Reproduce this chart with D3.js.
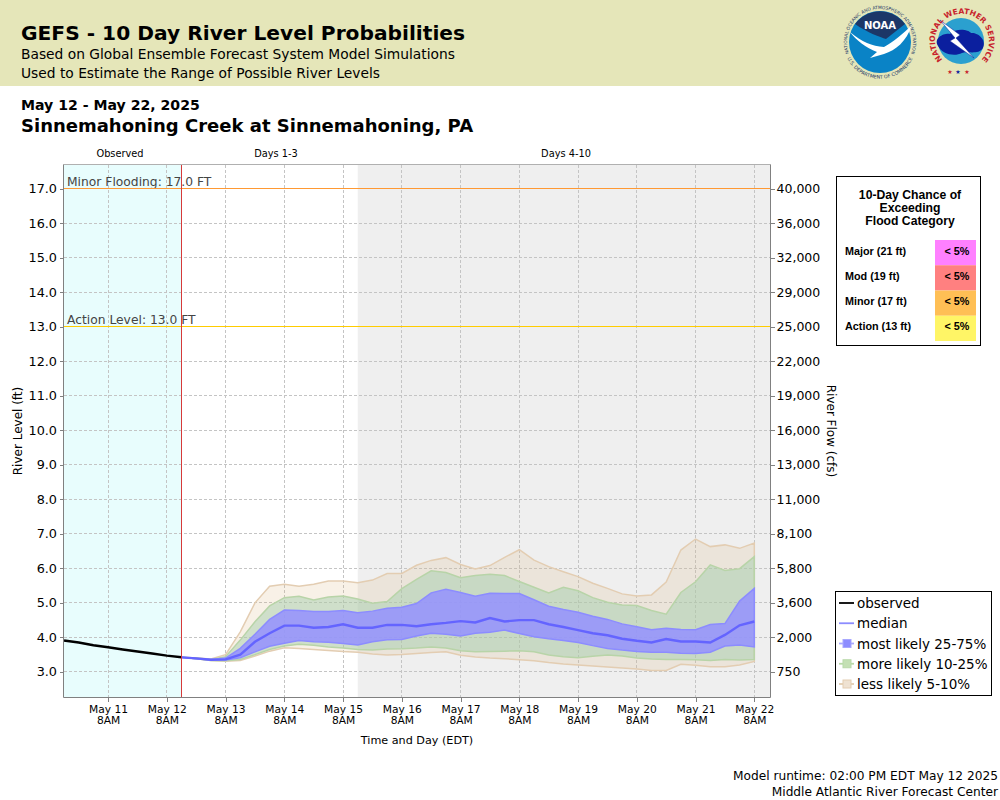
<!DOCTYPE html>
<html>
<head>
<meta charset="utf-8">
<script src="https://d3js.org/d3.v7.min.js"></script>
<style>
  html, body { margin: 0; padding: 0; background: #fff; }
  svg { display: block; }
  text { font-family: "DejaVu Sans", sans-serif; fill: #000; }
  .box text { font-family: "Liberation Sans", Arial, sans-serif; font-weight: bold; }
</style>
</head>
<body>
<div id="chart"></div>
<script>
// stage values, feet
const levelTicks = [3, 4, 5, 6, 7, 8, 9, 10, 11, 12, 13, 14, 15, 16, 17];
const flowLabels = ['750', '2,000', '3,600', '5,800', '8,100', '11,000', '13,000', '16,000',
    '19,000', '22,000', '25,000', '29,000', '32,000', '36,000', '40,000'];
const dayLabels = ['May 11', 'May 12', 'May 13', 'May 14', 'May 15', 'May 16', 'May 17',
    'May 18', 'May 19', 'May 20', 'May 21', 'May 22'];

// observed every 6h from May 10 2PM
const observed = [3.90, 3.84, 3.76, 3.70, 3.64, 3.58, 3.52, 3.46, 3.415];

// forecast every 6h from May 12 2PM
const q95 = [3.41,3.39, 3.36,3.49,4.15,4.99, 5.47,5.53,5.47,5.53, 5.62,5.62,5.57,5.65, 5.84,5.84,6.08,6.22,
    6.30,6.10,5.97,6.07, 6.31,6.53,6.23,6.04, 5.89,5.75,5.56,5.41, 5.25,5.19,5.22,5.59, 6.52,6.84,6.62,6.67, 6.57,6.72];
const q90 = [3.41,3.39, 3.35,3.43,3.91,4.44, 4.90,5.14,5.18,5.07, 5.16,5.19,5.10,4.98, 5.03,5.40,5.67,5.92,
    5.87,5.72,5.78,5.82, 5.78,5.61,5.44,5.28, 5.44,5.34,5.14,5.01, 4.93,4.91,4.77,4.66, 5.29,5.60,6.09,5.93, 5.98,6.33];
const q75 = [3.41,3.38, 3.35,3.39,3.67,4.08, 4.51,4.78,4.77,4.74, 4.74,4.77,4.70,4.75, 4.83,4.86,4.97,5.28,
    5.38,5.29,5.18,5.27, 5.26,5.26,5.08,4.89, 4.80,4.72,4.60,4.51, 4.38,4.30,4.21,4.25, 4.22,4.21,4.36,4.39, 5.04,5.41];
const median = [3.41,3.38, 3.34,3.35,3.49,3.86, 4.11,4.33,4.33,4.27, 4.29,4.37,4.27,4.27, 4.35,4.35,4.31,4.37,
    4.41,4.46,4.42,4.55, 4.45,4.49,4.49,4.37, 4.29,4.20,4.11,4.05, 3.95,3.89,3.84,3.94, 3.87,3.87,3.84,4.06, 4.34,4.45];
const q25 = [3.41,3.37, 3.33,3.33,3.40,3.57, 3.73,3.82,3.90,3.86, 3.85,3.81,3.77,3.86, 3.92,3.93,4.03,4.11,
    4.08,4.03,4.11,4.14, 4.20,4.10,4.01,3.95, 3.90,3.84,3.75,3.67, 3.62,3.58,3.56,3.56, 3.53,3.52,3.56,3.74, 3.77,3.71];
const q10 = [3.41,3.37, 3.32,3.31,3.35,3.49, 3.64,3.74,3.79,3.76, 3.71,3.68,3.64,3.62, 3.65,3.66,3.68,3.71,
    3.68,3.60,3.57,3.58, 3.59,3.60,3.57,3.48, 3.43,3.40,3.44,3.48, 3.45,3.39,3.36,3.35, 3.35,3.34,3.32,3.35, 3.33,3.35];
const q5 = [3.41,3.37, 3.32,3.30,3.32,3.45, 3.59,3.69,3.67,3.64, 3.61,3.58,3.56,3.51, 3.48,3.49,3.52,3.55,
    3.57,3.47,3.42,3.39, 3.37,3.34,3.31,3.26, 3.22,3.19,3.16,3.13, 3.10,3.07,3.03,3.03, 3.21,3.18,3.14,3.14, 3.19,3.29];

const floodRows = ['Major (21 ft)', 'Mod (19 ft)', 'Minor (17 ft)', 'Action (13 ft)'];
const floodChance = ['< 5%', '< 5%', '< 5%', '< 5%'];
const floodColors = ['#ff80ff', '#ff8080', '#ffbf55', '#fff566'];

const legendLabels = ['observed', 'median', 'most likely 25-75%', 'more likely 10-25%', 'less likely 5-10%'];

const hour6 = 6 * 3600 * 1000;
const obsStart = new Date(2025, 4, 10, 14);
const fcstStart = new Date(2025, 4, 12, 14);
const grayStart = new Date(2025, 4, 15, 14);
const obsTimes = observed.map((d, i) => new Date(+obsStart + i * hour6));
const fcstTimes = median.map((d, i) => new Date(+fcstStart + i * hour6));
const dayTicks = dayLabels.map((d, i) => new Date(2025, 4, 11 + i, 8));

const plot = { left: 63.5, right: 770.5, top: 164.5, bottom: 697.5 };

const svg = d3.select('#chart').append('svg')
    .attr('width', 1000)
    .attr('height', 800);

// header band
svg.append('rect').attr('width', 1000).attr('height', 86).attr('fill', '#e5e6b9');

svg.append('text').attr('x', 21).attr('y', 40).text('GEFS - 10 Day River Level Probabilities')
    .style('font-size', '20.2px').style('font-weight', 'bold');
svg.append('text').attr('x', 21).attr('y', 59).text('Based on Global Ensemble Forecast System Model Simulations')
    .style('font-size', '13.8px');
svg.append('text').attr('x', 21).attr('y', 78).text('Used to Estimate the Range of Possible River Levels')
    .style('font-size', '13.8px');
svg.append('text').attr('x', 21).attr('y', 110).text('May 12 - May 22, 2025')
    .style('font-size', '14.1px').style('font-weight', 'bold');
svg.append('text').attr('x', 21).attr('y', 132).text('Sinnemahoning Creek at Sinnemahoning, PA')
    .style('font-size', '18px').style('font-weight', 'bold');

//scales
const xScale = d3.scaleTime()
    .domain([new Date(2025, 4, 10, 13, 47), new Date(2025, 4, 22, 14, 37)])
    .range([plot.left, plot.right]);
const yScale = d3.scaleLinear()
    .domain([3, 17])
    .range([671.5, 188.5]);

const bounds = svg.append('g');

// shaded periods
bounds.append('rect')
    .attr('x', plot.left).attr('y', plot.top)
    .attr('width', xScale(fcstStart) - plot.left).attr('height', plot.bottom - plot.top)
    .attr('fill', '#e8fdfd');
bounds.append('rect')
    .attr('x', xScale(grayStart)).attr('y', plot.top)
    .attr('width', plot.right - xScale(grayStart)).attr('height', plot.bottom - plot.top)
    .attr('fill', '#efefef');

// grid
bounds.selectAll('.hgrid').data(levelTicks).join('line')
    .attr('x1', plot.left).attr('x2', plot.right)
    .attr('y1', d => yScale(d)).attr('y2', d => yScale(d))
    .attr('stroke', '#c4c4c4').attr('stroke-dasharray', '3,2').attr('shape-rendering', 'crispEdges');
bounds.selectAll('.vgrid').data(dayTicks).join('line')
    .attr('y1', plot.top).attr('y2', plot.bottom)
    .attr('x1', d => xScale(d)).attr('x2', d => xScale(d))
    .attr('stroke', '#c4c4c4').attr('stroke-dasharray', '3,2').attr('shape-rendering', 'crispEdges');

// probability bands, widest first
const bandLayers = [
    { hi: q95, lo: q5, fill: '#deb887', stroke: '#e3cdb2', op: 0.2 },
    { hi: q90, lo: q10, fill: '#a5cdad', stroke: '#b8d4a8', op: 0.5 },
    { hi: q75, lo: q25, fill: '#9491ff', stroke: '#8c8cff', op: 0.85 }
];
bandLayers.forEach(b => {
    const area = d3.area()
        .x((d, i) => xScale(fcstTimes[i]))
        .y0((d, i) => yScale(b.lo[i]))
        .y1(d => yScale(d));
    bounds.append('path').attr('d', area(b.hi))
        .attr('fill', b.fill).attr('fill-opacity', b.op)
        .attr('stroke', b.stroke).attr('stroke-width', 1.5);
});

const lineGen = times => d3.line().x((d, i) => xScale(times[i])).y(d => yScale(d));

bounds.append('path').attr('d', lineGen(obsTimes)(observed))
    .attr('fill', 'none').attr('stroke', '#000').attr('stroke-width', 2.5);
bounds.append('path').attr('d', lineGen(fcstTimes)(median))
    .attr('fill', 'none').attr('stroke', '#6464ff').attr('stroke-width', 2.4);

// flood lines
const floodLines = [
    { level: 17, label: 'Minor Flooding: 17.0 FT', color: '#ff9933' },
    { level: 13, label: 'Action Level: 13.0 FT', color: '#ffcc00' }
];
floodLines.forEach(f => {
    bounds.append('text').attr('x', 67).attr('y', yScale(f.level) - 2.5).text(f.label)
        .style('font-size', '12.3px').style('fill', '#444');
    bounds.append('line')
        .attr('x1', plot.left).attr('x2', plot.right)
        .attr('y1', yScale(f.level)).attr('y2', yScale(f.level))
        .attr('stroke', f.color).attr('stroke-width', 1).attr('shape-rendering', 'crispEdges');
});

// now line
bounds.append('line')
    .attr('x1', xScale(fcstStart)).attr('x2', xScale(fcstStart))
    .attr('y1', plot.top).attr('y2', plot.bottom)
    .attr('stroke', '#d63a3a').attr('stroke-width', 1).attr('shape-rendering', 'crispEdges');

// frame
svg.append('path').attr('d', `M${plot.left},${plot.top}H${plot.right}`)
    .attr('fill', 'none').attr('stroke', '#b0b0b0');
svg.append('path').attr('d', `M${plot.left},${plot.top}V${plot.bottom}H${plot.right}V${plot.top}`)
    .attr('fill', 'none').attr('stroke', '#808080');

// axes
const leftAxis = d3.axisLeft(yScale).tickValues(levelTicks).tickFormat(d3.format('.1f')).tickSize(4).tickSizeOuter(0);
const rightAxis = d3.axisRight(yScale).tickValues(levelTicks).tickFormat((d, i) => flowLabels[i]).tickSize(4).tickSizeOuter(0);
const bottomAxis = d3.axisBottom(xScale).tickValues(dayTicks).tickFormat((d, i) => dayLabels[i]).tickSize(4).tickSizeOuter(0);

const styleAxis = g => {
    g.select('.domain').remove();
    g.selectAll('line').attr('stroke', '#808080').attr('shape-rendering', 'crispEdges');
    g.selectAll('text').style('font-family', '"DejaVu Sans", sans-serif').style('fill', '#000');
};

svg.append('g').attr('transform', `translate(${plot.left},0)`).call(leftAxis).call(styleAxis)
    .selectAll('text').style('font-size', '12.8px').attr('x', -6.5);
svg.append('g').attr('transform', `translate(${plot.right},0)`).call(rightAxis).call(styleAxis)
    .selectAll('text').style('font-size', '12.5px').attr('x', 6);
const xAxisG = svg.append('g').attr('transform', `translate(0,${plot.bottom})`).call(bottomAxis).call(styleAxis);
xAxisG.selectAll('text').style('font-size', '10.7px').attr('y', 8);
xAxisG.selectAll('.tick').append('text')
    .attr('y', 26).attr('fill', '#000').attr('text-anchor', 'middle')
    .style('font-size', '10.7px').text('8AM');

// axis titles
svg.append('text').attr('transform', 'translate(22,431) rotate(-90)').attr('text-anchor', 'middle')
    .text('River Level (ft)').style('font-size', '12px');
svg.append('text').attr('transform', 'translate(827,431) rotate(90)').attr('text-anchor', 'middle')
    .text('River Flow (cfs)').style('font-size', '12px');
svg.append('text').attr('x', 417).attr('y', 744).attr('text-anchor', 'middle')
    .text('Time and Day (EDT)').style('font-size', '11.2px');

// period labels
[['Observed', 120], ['Days 1-3', 276], ['Days 4-10', 566]].forEach(p => {
    svg.append('text').attr('x', p[1]).attr('y', 157).attr('text-anchor', 'middle')
        .text(p[0]).style('font-size', '9.8px');
});

// flood category box
const box = svg.append('g').attr('class', 'box');
box.append('rect').attr('x', 836.5).attr('y', 176.5).attr('width', 144).attr('height', 169)
    .attr('fill', '#fff').attr('stroke', '#000');
['10-Day Chance of', 'Exceeding', 'Flood Category'].forEach((t, i) => {
    box.append('text').attr('x', 910).attr('y', 199 + i * 13).attr('text-anchor', 'middle')
        .text(t).style('font-size', '12.2px');
});
const rowScale = d3.scaleBand().domain(floodRows).range([240, 341]);
floodRows.forEach((r, i) => {
    box.append('rect').attr('x', 935).attr('y', rowScale(r)).attr('width', 41)
        .attr('height', rowScale.bandwidth()).attr('fill', floodColors[i]);
    box.append('text').attr('x', 845).attr('y', rowScale(r) + 14.5).text(r).style('font-size', '10.8px');
    box.append('text').attr('x', 957).attr('y', rowScale(r) + 14.5).attr('text-anchor', 'middle')
        .text(floodChance[i]).style('font-size', '10.8px');
});

// legend
const legend = svg.append('g');
legend.append('rect').attr('x', 835.5).attr('y', 591.5).attr('width', 156).attr('height', 104)
    .attr('fill', '#fff').attr('stroke', '#000');
const legendStyles = [
    { line: '#000', fill: null },
    { line: '#8c8cff', fill: null },
    { line: '#a8a8ff', fill: '#8c8cff' },
    { line: '#b8d9a8', fill: '#c4e0b4' },
    { line: '#e3cdb2', fill: '#efe2d2' }
];
const legendY = d3.scalePoint().domain(legendLabels).range([603, 684]);
legendLabels.forEach((l, i) => {
    const y = legendY(l);
    legend.append('line').attr('x1', 839).attr('x2', 854).attr('y1', y).attr('y2', y)
        .attr('stroke', legendStyles[i].line).attr('stroke-width', 1.8);
    if (legendStyles[i].fill) {
        legend.append('rect').attr('x', 843).attr('y', y - 4).attr('width', 8).attr('height', 8)
            .attr('fill', legendStyles[i].fill).attr('stroke', legendStyles[i].line);
    }
    legend.append('text').attr('x', 857).attr('y', y + 5).text(l).style('font-size', '13.5px');
});

// footer
svg.append('text').attr('x', 998).attr('y', 780).attr('text-anchor', 'end')
    .text('Model runtime: 02:00 PM EDT May 12 2025').style('font-size', '12.2px');
svg.append('text').attr('x', 998).attr('y', 796).attr('text-anchor', 'end')
    .text('Middle Atlantic River Forecast Center').style('font-size', '12.2px');

// logos
const defs = svg.append('defs');
defs.append('path').attr('id', 'noaaTop').attr('d', 'M856.7,65.3 A33,33 0 1 1 903.3,65.3');
defs.append('path').attr('id', 'noaaBot').attr('d', 'M844.7,51.5 A36.5,36.5 0 0 0 915.3,51.5');
defs.append('path').attr('id', 'nwsTop').attr('d', 'M943,60 A27,27 0 1 1 981,60');

const noaa = svg.append('g');
noaa.append('circle').attr('cx', 880).attr('cy', 42).attr('r', 31).attr('fill', '#0a83c6');
noaa.append('path').attr('d', 'M855,24 A31,31 0 0 1 905,24 L886,39 C880,37 868,33 855,24Z').attr('fill', '#1c3768');
noaa.append('path').attr('d', 'M850,32 C862,42 872,46 884,47 C893,42 903,34 912,25 C906,42 896,50 884,54 L870,58 L877,52 C866,48 856,40 850,32Z').attr('fill', '#fff');
noaa.append('text').attr('x', 880).attr('y', 29).attr('text-anchor', 'middle').text('NOAA')
    .style('font-size', '10px').style('font-weight', 'bold').style('fill', '#fff');
noaa.append('text').append('textPath').attr('href', '#noaaTop').attr('startOffset', '50%').attr('text-anchor', 'middle')
    .text('NATIONAL OCEANIC AND ATMOSPHERIC ADMINISTRATION').style('font-size', '4.4px').style('fill', '#1c3768');
noaa.append('text').append('textPath').attr('href', '#noaaBot').attr('startOffset', '50%').attr('text-anchor', 'middle')
    .text('U.S. DEPARTMENT OF COMMERCE').style('font-size', '4.8px').style('fill', '#1c3768');

const nws = svg.append('g');
nws.append('circle').attr('cx', 961).attr('cy', 41).attr('r', 23).attr('fill', '#2ba0cf');
nws.append('path').attr('d', 'M938,46 C933,38 944,33 950,34 C955,28 968,29 971,33 C977,32 987,39 983,48 C979,55 969,51 962,53 C954,57 942,54 938,46Z').attr('fill', '#0b1f9e');
nws.append('path').attr('d', 'M940,20 L960,35 L956,38 L974,58 L950,41 L955,38Z').attr('fill', '#fff').attr('stroke', '#0b1f9e').attr('stroke-width', 0.5);
nws.append('text').append('textPath').attr('href', '#nwsTop').attr('startOffset', '50%').attr('text-anchor', 'middle')
    .text('NATIONAL WEATHER SERVICE').style('font-size', '7.6px').style('font-weight', 'bold').style('fill', '#c8232c');
[[950, '#c8232c'], [958, '#0b1f9e'], [967, '#c8232c']].forEach(s => {
    nws.append('text').attr('x', s[0]).attr('y', 74).attr('text-anchor', 'middle').text('★')
        .style('font-size', '6px').style('fill', s[1]);
});
</script>
</body>
</html>
